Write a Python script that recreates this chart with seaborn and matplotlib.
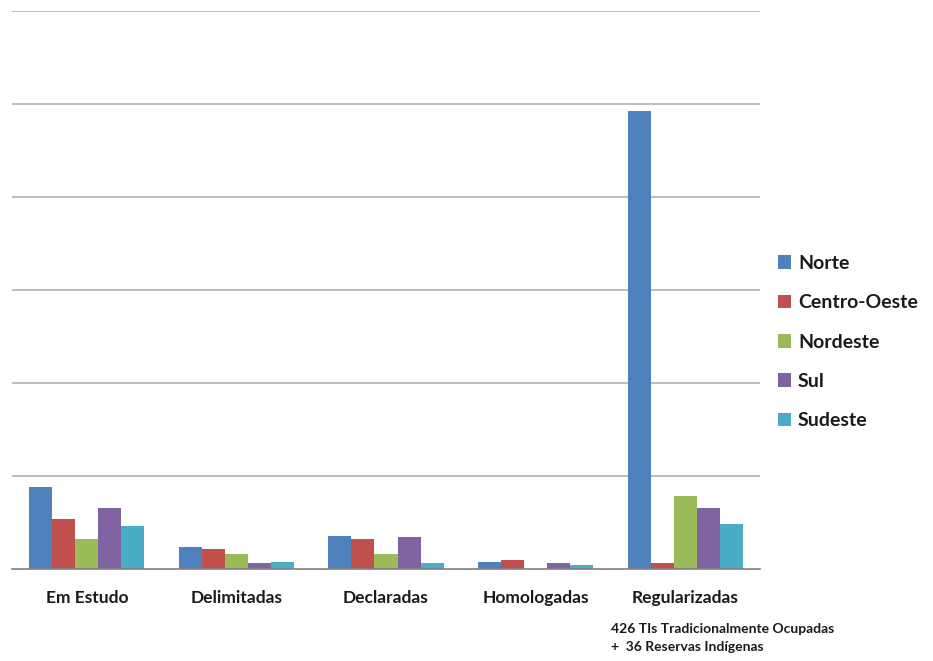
import matplotlib
matplotlib.use("Agg")
import matplotlib.pyplot as plt
import seaborn as sns
import pandas as pd
import numpy as np

# Terras indígenas por fase do procedimento e por região
fases = ["Em Estudo", "Delimitadas", "Declaradas", "Homologadas", "Regularizadas"]
regioes = ["Norte", "Centro-Oeste", "Nordeste", "Sul", "Sudeste"]
norte = [44, 12, 18, 4, 246]
centro_oeste = [27, 11, 16, 5, 3]
nordeste = [16, 8, 8, 0, 39]
sul = [33, 3, 17, 3, 33]
sudeste = [23, 4, 3, 2, 24]
cores = ["#4F81BD", "#C0504D", "#9BBB59", "#8064A2", "#4BACC6"]
nota = "426 TIs Tradicionalmente Ocupadas\n+  36 Reservas Indígenas"

series = [norte, centro_oeste, nordeste, sul, sudeste]
df = pd.DataFrame(
    [(f, r, v[i]) for r, v in zip(regioes, series) for i, f in enumerate(fases)],
    columns=["fase", "regiao", "valor"],
)

sns.set_theme(style="white")
plt.rcParams["font.family"] = ["Lato", "DejaVu Sans"]

fig = plt.figure(figsize=(9.33, 6.61), dpi=100)
ax = fig.add_axes([12 / 933, (661 - 569) / 661, (760 - 12) / 933, (569 - 11) / 661])

sns.barplot(
    data=df, x="fase", y="valor", hue="regiao", order=fases, hue_order=regioes,
    palette=cores, saturation=1, width=0.77, linewidth=0, ax=ax, legend=True,
)

ax.set_ylim(0, 300)
ax.set_xlim(-0.5, 4.5)
ax.set_yticks(np.arange(50, 301, 50))
ax.yaxis.grid(True, color="#BDBDBD", linewidth=1.4)
ax.set_axisbelow(True)
ax.tick_params(axis="y", length=0, labelleft=False)
ax.set_xlabel("")
ax.set_ylabel("")
for s in ["top", "right", "left"]:
    ax.spines[s].set_visible(False)
ax.spines["bottom"].set_color("#808080")
ax.spines["bottom"].set_linewidth(1.2)

# category labels, with small separator ticks between groups
ax.set_xticks(range(len(fases)))
ax.set_xticklabels(fases, fontsize=12.5, fontweight="bold", color="#1a1a1a")
ax.tick_params(axis="x", which="major", length=0, pad=15)
ax.set_xticks(np.arange(-0.5, 5, 1), minor=True)
ax.tick_params(axis="x", which="minor", length=5, width=1, color="#808080", direction="out")

leg = ax.legend(
    loc="center left", frameon=False, handlelength=0.7, handleheight=0.7,
    handletextpad=0.35, labelspacing=1.15,
    prop={"family": "Lato", "weight": "bold", "size": 14},
)
leg.set_bbox_to_anchor((760 / 933, (661 - 342) / 661), transform=fig.transFigure)
for t in leg.get_texts():
    t.set_color("#1a1a1a")

fig.text(611 / 933, (661 - 623) / 661, nota, ha="left", va="top", fontsize=10,
         fontweight="bold", color="#1a1a1a", linespacing=1.6)

fig.savefig("out.png", dpi=100, facecolor="white")
